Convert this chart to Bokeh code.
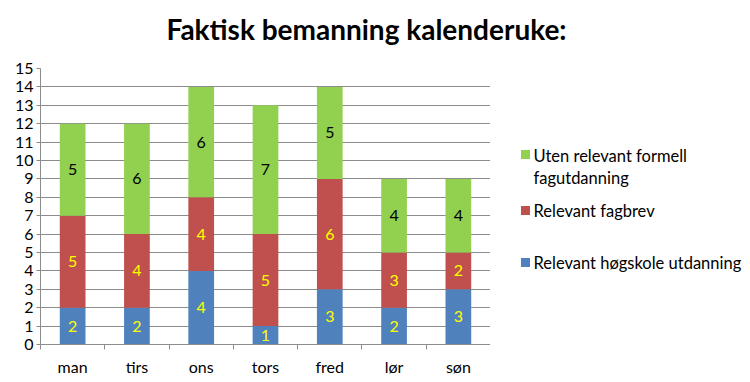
import numpy as np
from bokeh.plotting import figure
from bokeh.layouts import column, row
from bokeh.models import ColumnDataSource, FixedTicker, Range1d
from bokeh.core.properties import value
from bokeh.embed import file_html
from bokeh.resources import INLINE

days = ["man", "tirs", "ons", "tors", "fred", "lør", "søn"]
hogskole = [2, 2, 4, 1, 3, 2, 3]
fagbrev = [5, 4, 4, 5, 6, 3, 2]
uten = [5, 6, 6, 7, 5, 4, 4]
series_names = ["Relevant høgskole utdanning", "Relevant fagbrev",
                "Uten relevant formell\nfagutdanning"]
colors = ["#4F81BD", "#C0504D", "#92D050"]
label_colors = ["#FFFF00", "#FFFF00", "#000000"]
title_text = "Faktisk bemanning kalenderuke:"
y_ticks = list(range(0, 16))

FONT = "Lato"
W, H = 750, 382
TITLE_H = 58
CHART_W = 490
LEG_W = W - CHART_W
BODY_H = H - TITLE_H
B_TOP, B_BOT = 10, 38
FRAME_H = BODY_H - B_TOP - B_BOT


def blank(width, height, top=0, bottom=0):
    f = figure(width=width, height=height, output_backend="svg",
               toolbar_location=None, x_range=Range1d(0, width),
               y_range=Range1d(0, height - top - bottom), min_border=0,
               min_border_top=top, min_border_bottom=bottom)
    f.axis.visible = False
    f.grid.visible = False
    f.outline_line_color = None
    return f


# ---- title ----
t = blank(W, TITLE_H)
t.text(x=[366], y=[TITLE_H - 28], text=[title_text],
       text_align="center", text_baseline="middle", text_font=value(FONT),
       text_font_size="28px", text_font_style="bold", text_color="#000000")

# ---- chart ----
x = np.arange(len(days)) + 0.5
src = ColumnDataSource(dict(x=x, hogskole=hogskole, fagbrev=fagbrev, uten=uten))

p = figure(width=CHART_W, height=BODY_H, output_backend="svg",
           toolbar_location=None,
           x_range=Range1d(0, len(days)), y_range=Range1d(0, 15),
           min_border_left=40, min_border_right=0, min_border_top=B_TOP,
           min_border_bottom=B_BOT)
p.outline_line_color = None

keys = ["hogskole", "fagbrev", "uten"]
renderers = p.vbar_stack(keys, x="x", width=0.4, source=src, color=colors,
                         line_color=None)

vals = [hogskole, fagbrev, uten]
bottom = np.zeros(len(days))
for i, v in enumerate(vals):
    v = np.array(v, dtype=float)
    mid = bottom + v / 2
    s = ColumnDataSource(dict(x=x, y=mid, t=[str(int(a)) for a in v]))
    p.text(x="x", y="y", text="t", source=s, text_align="center",
           text_baseline="middle", text_color=label_colors[i],
           text_font=value(FONT), text_font_size="16px")
    bottom = bottom + v

p.xgrid.grid_line_color = None
p.ygrid.grid_line_color = "#8c8c8c"
p.ygrid.ticker = FixedTicker(ticks=y_ticks)

p.yaxis.ticker = FixedTicker(ticks=y_ticks)
p.yaxis.axis_line_color = "#8c8c8c"
p.yaxis.major_tick_line_color = "#8c8c8c"
p.yaxis.major_tick_out = 4
p.yaxis.major_tick_in = 0
p.yaxis.minor_tick_line_color = None
p.yaxis.major_label_text_font = FONT
p.yaxis.major_label_text_font_size = "16px"
p.yaxis.major_label_text_color = "#000000"
p.yaxis.major_label_standoff = 3

p.xaxis.ticker = FixedTicker(ticks=list(x), minor_ticks=list(range(len(days) + 1)))
p.xaxis.major_label_overrides = {float(xx): d for xx, d in zip(x, days)}
p.xaxis.axis_line_color = "#8c8c8c"
p.xaxis.major_tick_line_color = None
p.xaxis.minor_tick_line_color = "#8c8c8c"
p.xaxis.minor_tick_out = 5
p.xaxis.minor_tick_in = 0
p.xaxis.major_label_text_font = FONT
p.xaxis.major_label_text_font_size = "16px"
p.xaxis.major_label_text_color = "#000000"
p.xaxis.major_label_standoff = 6

# ---- legend ----
leg = blank(LEG_W, BODY_H, B_TOP, B_BOT)
# (square y, text lines' y) in pixels above the chart's baseline, top item first
leg_rows = [(190, [189, 167]), (134, [134]), (82, [82])]
for name, c, (sy, ly) in zip(series_names[::-1], colors[::-1], leg_rows):
    leg.scatter(x=[35], y=[sy], marker="square", size=9, fill_color=c,
                line_color=None)
    lines = name.split("\n")
    leg.text(x=[43] * len(lines), y=ly, text=lines, text_align="left",
             text_baseline="middle", text_font=value(FONT),
             text_font_size="16.5px", text_color="#000000")

layout = column(t, row(p, leg, spacing=0), spacing=0)
open("out.html", "w").write(file_html(layout, INLINE))
